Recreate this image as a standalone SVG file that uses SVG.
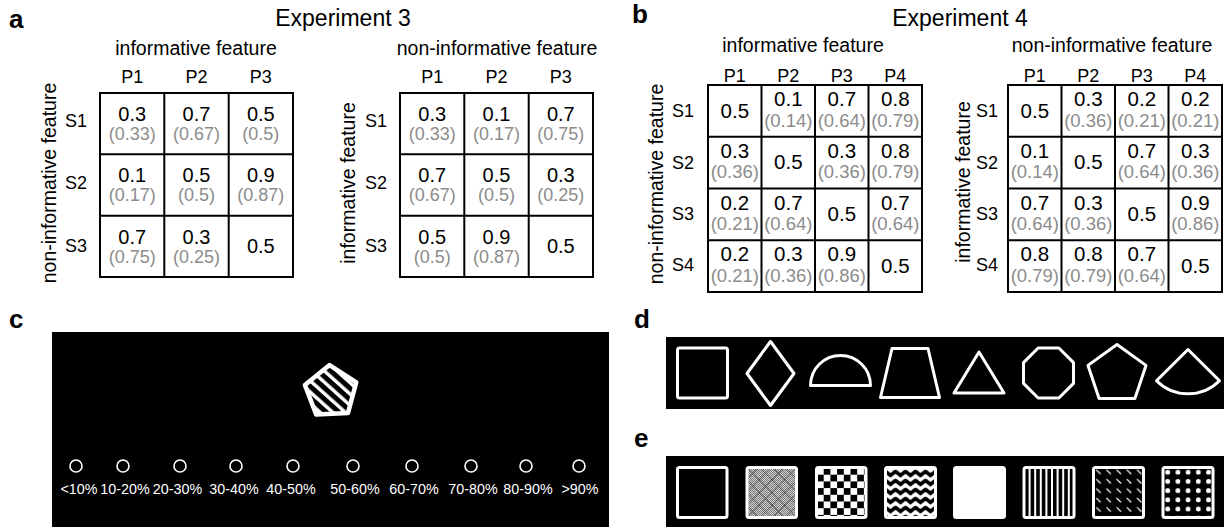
<svg xmlns="http://www.w3.org/2000/svg" width="1224" height="527" viewBox="0 0 1224 527">
<style>
text{font-family:"Liberation Sans",Arial,Helvetica,sans-serif;fill:#000}
.pl{font-weight:bold;font-size:26px}
.hd{font-size:23px;text-anchor:middle}
.lab{font-size:19.5px;text-anchor:middle}
.ax{font-size:18px;text-anchor:middle}
.n{font-size:20px;text-anchor:middle}
.g{font-size:18px;text-anchor:middle;fill:#8c8c8c}
.nb{font-size:20.5px;text-anchor:middle}
.gb{font-size:18.5px;text-anchor:middle;fill:#8c8c8c}
.grid{fill:none;stroke:#000;stroke-width:2}
.pc{font-size:14.3px;text-anchor:middle;fill:#fff}
.circ{fill:none;stroke:#fff;stroke-width:1.6}
.sh{fill:none;stroke:#fff;stroke-width:3;stroke-linejoin:round}
.bx{stroke:#fff;stroke-width:3}
</style>
<defs>
<pattern id="stripeC" patternUnits="userSpaceOnUse" width="8.4" height="8.4" patternTransform="rotate(45)"><rect width="8.4" height="8.4" fill="#fff"/><rect width="8.4" height="5" fill="#000"/></pattern>
<pattern id="fine" patternUnits="userSpaceOnUse" width="2" height="2"><rect width="2" height="2" fill="#d2d2d2"/><rect width="1" height="1" fill="#777"/><rect x="1" y="1" width="1" height="1" fill="#777"/></pattern>
<pattern id="xh" patternUnits="userSpaceOnUse" x="746.5" y="467" width="12.75" height="12.75"><path d="M0,0L12.75,12.75M12.75,0L0,12.75" stroke="#444" stroke-width="0.9"/></pattern>
<pattern id="chk" patternUnits="userSpaceOnUse" x="817" y="468" width="13.4" height="13.4"><rect width="13.4" height="13.4" fill="#fff"/><rect x="6.7" y="0" width="6.7" height="6.7" fill="#000"/><rect x="0" y="6.7" width="6.7" height="6.7" fill="#000"/></pattern>
<pattern id="zig" patternUnits="userSpaceOnUse" x="885.5" y="469" width="10" height="9"><rect width="10" height="9" fill="#fff"/><path d="M-0.5,2L5,6.5L10.5,2" fill="none" stroke="#000" stroke-width="3.6"/></pattern>
<pattern id="dash" patternUnits="userSpaceOnUse" x="1093" y="467" width="10.2" height="9.4"><rect width="10.2" height="9.4" fill="#000"/><path d="M3.2,2.7L7.6,7" stroke="#fff" stroke-width="1.3"/></pattern>
<pattern id="dot" patternUnits="userSpaceOnUse" x="1162.5" y="467" width="10.2" height="9.2"><rect width="10.2" height="9.2" fill="#000"/><circle cx="5.2" cy="5.2" r="2.4" fill="#fff"/></pattern>
</defs>
<rect width="1224" height="527" fill="#fff"/>

<!-- panel labels -->
<text class="pl" x="9" y="28">a</text>
<text class="pl" x="632" y="23">b</text>
<text class="pl" x="9" y="328">c</text>
<text class="pl" x="634" y="328">d</text>
<text class="pl" x="634" y="447">e</text>

<!-- Panel a -->
<g id="panel-a">
<text class="hd" x="343" y="26">Experiment 3</text>
<g id="a-left">
<text class="lab" x="196" y="55">informative feature</text>
<text class="lab" transform="translate(56,183) rotate(-90)">non-informative feature</text>
<text class="ax" x="132.2" y="83">P1</text><text class="ax" x="196.5" y="83">P2</text><text class="ax" x="260.8" y="83">P3</text>
<text class="ax" x="76" y="127">S1</text><text class="ax" x="76" y="189">S2</text><text class="ax" x="76" y="252">S3</text>
<rect class="grid" x="100" y="93" width="193" height="184"/>
<path class="grid" d="M164.3,93V277M228.7,93V277M100,154.3H293M100,215.7H293"/>
<text class="n" x="132.2" y="121">0.3</text><text class="g" x="132.2" y="140">(0.33)</text>
<text class="n" x="196.5" y="121">0.7</text><text class="g" x="196.5" y="140">(0.67)</text>
<text class="n" x="260.8" y="121">0.5</text><text class="g" x="260.8" y="140">(0.5)</text>
<text class="n" x="132.2" y="182.3">0.1</text><text class="g" x="132.2" y="201.3">(0.17)</text>
<text class="n" x="196.5" y="182.3">0.5</text><text class="g" x="196.5" y="201.3">(0.5)</text>
<text class="n" x="260.8" y="182.3">0.9</text><text class="g" x="260.8" y="201.3">(0.87)</text>
<text class="n" x="132.2" y="243.7">0.7</text><text class="g" x="132.2" y="262.7">(0.75)</text>
<text class="n" x="196.5" y="243.7">0.3</text><text class="g" x="196.5" y="262.7">(0.25)</text>
<text class="n" x="260.8" y="253">0.5</text>
</g>
<g id="a-right">
<text class="lab" x="497" y="55">non-informative feature</text>
<text class="lab" transform="translate(355,183) rotate(-90)">informative feature</text>
<text class="ax" x="432.2" y="83">P1</text><text class="ax" x="496.5" y="83">P2</text><text class="ax" x="560.8" y="83">P3</text>
<text class="ax" x="376" y="127">S1</text><text class="ax" x="376" y="189">S2</text><text class="ax" x="376" y="252">S3</text>
<rect class="grid" x="400" y="93" width="193" height="184"/>
<path class="grid" d="M464.3,93V277M528.7,93V277M400,154.3H593M400,215.7H593"/>
<text class="n" x="432.2" y="121">0.3</text><text class="g" x="432.2" y="140">(0.33)</text>
<text class="n" x="496.5" y="121">0.1</text><text class="g" x="496.5" y="140">(0.17)</text>
<text class="n" x="560.8" y="121">0.7</text><text class="g" x="560.8" y="140">(0.75)</text>
<text class="n" x="432.2" y="182.3">0.7</text><text class="g" x="432.2" y="201.3">(0.67)</text>
<text class="n" x="496.5" y="182.3">0.5</text><text class="g" x="496.5" y="201.3">(0.5)</text>
<text class="n" x="560.8" y="182.3">0.3</text><text class="g" x="560.8" y="201.3">(0.25)</text>
<text class="n" x="432.2" y="243.7">0.5</text><text class="g" x="432.2" y="262.7">(0.5)</text>
<text class="n" x="496.5" y="243.7">0.9</text><text class="g" x="496.5" y="262.7">(0.87)</text>
<text class="n" x="560.8" y="253">0.5</text>
</g>
</g>

<!-- Panel b -->
<g id="panel-b">
<text class="hd" x="960" y="26">Experiment 4</text>
<g id="b-left">
<text class="lab" x="803" y="52">informative feature</text>
<text class="lab" transform="translate(663,184) rotate(-90)">non-informative feature</text>
<text class="ax" x="734.8" y="81.5">P1</text><text class="ax" x="788.3" y="81.5">P2</text><text class="ax" x="841.8" y="81.5">P3</text><text class="ax" x="895.3" y="81.5">P4</text>
<text class="ax" x="683" y="117">S1</text><text class="ax" x="683" y="168.5">S2</text><text class="ax" x="683" y="220">S3</text><text class="ax" x="683" y="271">S4</text>
<rect class="grid" x="708" y="85" width="214" height="207"/>
<path class="grid" d="M761.5,85V292M815,85V292M868.5,85V292M708,136.75H922M708,188.5H922M708,240.25H922"/>
<text class="nb" x="734.8" y="117.5">0.5</text>
<text class="nb" x="788.3" y="106">0.1</text><text class="gb" x="788.3" y="126.5">(0.14)</text>
<text class="nb" x="841.8" y="106">0.7</text><text class="gb" x="841.8" y="126.5">(0.64)</text>
<text class="nb" x="895.3" y="106">0.8</text><text class="gb" x="895.3" y="126.5">(0.79)</text>
<text class="nb" x="734.8" y="157.75">0.3</text><text class="gb" x="734.8" y="178.25">(0.36)</text>
<text class="nb" x="788.3" y="169.25">0.5</text>
<text class="nb" x="841.8" y="157.75">0.3</text><text class="gb" x="841.8" y="178.25">(0.36)</text>
<text class="nb" x="895.3" y="157.75">0.8</text><text class="gb" x="895.3" y="178.25">(0.79)</text>
<text class="nb" x="734.8" y="209.5">0.2</text><text class="gb" x="734.8" y="230">(0.21)</text>
<text class="nb" x="788.3" y="209.5">0.7</text><text class="gb" x="788.3" y="230">(0.64)</text>
<text class="nb" x="841.8" y="221">0.5</text>
<text class="nb" x="895.3" y="209.5">0.7</text><text class="gb" x="895.3" y="230">(0.64)</text>
<text class="nb" x="734.8" y="261.25">0.2</text><text class="gb" x="734.8" y="281.75">(0.21)</text>
<text class="nb" x="788.3" y="261.25">0.3</text><text class="gb" x="788.3" y="281.75">(0.36)</text>
<text class="nb" x="841.8" y="261.25">0.9</text><text class="gb" x="841.8" y="281.75">(0.86)</text>
<text class="nb" x="895.3" y="272.75">0.5</text>
</g>
<g id="b-right">
<text class="lab" x="1112" y="52">non-informative feature</text>
<text class="lab" transform="translate(970,182) rotate(-90)">informative feature</text>
<text class="ax" x="1034.8" y="81.5">P1</text><text class="ax" x="1088.3" y="81.5">P2</text><text class="ax" x="1141.8" y="81.5">P3</text><text class="ax" x="1195.3" y="81.5">P4</text>
<text class="ax" x="987" y="117">S1</text><text class="ax" x="987" y="168.5">S2</text><text class="ax" x="987" y="220">S3</text><text class="ax" x="987" y="271">S4</text>
<rect class="grid" x="1008" y="85" width="214" height="207"/>
<path class="grid" d="M1061.5,85V292M1115,85V292M1168.5,85V292M1008,136.75H1222M1008,188.5H1222M1008,240.25H1222"/>
<text class="nb" x="1034.8" y="117.5">0.5</text>
<text class="nb" x="1088.3" y="106">0.3</text><text class="gb" x="1088.3" y="126.5">(0.36)</text>
<text class="nb" x="1141.8" y="106">0.2</text><text class="gb" x="1141.8" y="126.5">(0.21)</text>
<text class="nb" x="1195.3" y="106">0.2</text><text class="gb" x="1195.3" y="126.5">(0.21)</text>
<text class="nb" x="1034.8" y="157.75">0.1</text><text class="gb" x="1034.8" y="178.25">(0.14)</text>
<text class="nb" x="1088.3" y="169.25">0.5</text>
<text class="nb" x="1141.8" y="157.75">0.7</text><text class="gb" x="1141.8" y="178.25">(0.64)</text>
<text class="nb" x="1195.3" y="157.75">0.3</text><text class="gb" x="1195.3" y="178.25">(0.36)</text>
<text class="nb" x="1034.8" y="209.5">0.7</text><text class="gb" x="1034.8" y="230">(0.64)</text>
<text class="nb" x="1088.3" y="209.5">0.3</text><text class="gb" x="1088.3" y="230">(0.36)</text>
<text class="nb" x="1141.8" y="221">0.5</text>
<text class="nb" x="1195.3" y="209.5">0.9</text><text class="gb" x="1195.3" y="230">(0.86)</text>
<text class="nb" x="1034.8" y="261.25">0.8</text><text class="gb" x="1034.8" y="281.75">(0.79)</text>
<text class="nb" x="1088.3" y="261.25">0.8</text><text class="gb" x="1088.3" y="281.75">(0.79)</text>
<text class="nb" x="1141.8" y="261.25">0.7</text><text class="gb" x="1141.8" y="281.75">(0.64)</text>
<text class="nb" x="1195.3" y="272.75">0.5</text>
</g>
</g>

<!-- Panel c -->
<g id="panel-c">
<rect x="52" y="332" width="557" height="195" fill="#000"/>
<g transform="rotate(-3 331 392)">
<polygon points="331,365 356.7,383.7 346.9,413.8 315.1,413.8 305.3,383.7" fill="url(#stripeC)" stroke="#fff" stroke-width="4.5" stroke-linejoin="round"/>
</g>
<g id="c-options">
<circle class="circ" cx="76" cy="466" r="6"/><circle class="circ" cx="123" cy="466" r="6"/><circle class="circ" cx="180" cy="466" r="6"/><circle class="circ" cx="236" cy="466" r="6"/><circle class="circ" cx="293" cy="466" r="6"/><circle class="circ" cx="353" cy="466" r="6"/><circle class="circ" cx="412" cy="466" r="6"/><circle class="circ" cx="471" cy="466" r="6"/><circle class="circ" cx="526" cy="466" r="6"/><circle class="circ" cx="579" cy="466" r="6"/>
<text class="pc" x="79" y="494">&lt;10%</text>
<text class="pc" x="125" y="494">10-20%</text>
<text class="pc" x="177.5" y="494">20-30%</text>
<text class="pc" x="234" y="494">30-40%</text>
<text class="pc" x="291" y="494">40-50%</text>
<text class="pc" x="355" y="494">50-60%</text>
<text class="pc" x="414" y="494">60-70%</text>
<text class="pc" x="473" y="494">70-80%</text>
<text class="pc" x="528" y="494">80-90%</text>
<text class="pc" x="580" y="494">&gt;90%</text>
</g>
</g>

<!-- Panel d -->
<g id="panel-d">
<rect x="666" y="337" width="558" height="72" fill="#000"/>
<rect class="sh" x="677.5" y="348" width="50" height="50" rx="2"/>
<polygon class="sh" points="770.5,341.5 794,373.5 770.5,405.5 747,373.5"/>
<path class="sh" d="M810.5,385.5A30,30 0 0 1 870.5,385.5Z"/>
<polygon class="sh" points="880.5,397.5 892,348.5 928,348.5 939.5,397.5"/>
<polygon class="sh" points="979,352 1004,393 954,393"/>
<polygon class="sh" points="1073.5,362.6 1073.5,383.4 1058.9,398 1038.1,398 1023.5,383.4 1023.5,362.6 1038.1,348 1058.9,348"/>
<polygon class="sh" points="1117,344.5 1146,365.4 1134.9,398.5 1099.1,398.5 1088,365.4"/>
<path class="sh" d="M1188,349.5L1156.5,380.8A44.5,44.5 0 0 0 1219.5,380.8Z"/>
</g>

<!-- Panel e -->
<g id="panel-e">
<rect x="666" y="456" width="558" height="71" fill="#000"/>
<rect class="bx" x="677.5" y="467.5" width="49.5" height="50" rx="2" fill="#000"/>
<rect x="747" y="467.5" width="49.5" height="50" rx="2" fill="url(#fine)"/>
<rect class="bx" x="747" y="467.5" width="49.5" height="50" rx="2" fill="url(#xh)"/>
<rect class="bx" x="816.5" y="467.5" width="49.5" height="50" rx="2" fill="url(#chk)"/>
<rect class="bx" x="885.5" y="467.5" width="50" height="50" rx="2" fill="url(#zig)"/>
<rect class="bx" x="954.5" y="467.5" width="50" height="50" rx="2" fill="#fff"/>
<rect class="bx" x="1024" y="467.5" width="50" height="50" rx="2" fill="#000"/>
<path d="M1029.6,468V517M1035.2,468V517M1040.8,468V517M1046.4,468V517M1052,468V517M1057.6,468V517M1063.2,468V517M1068.8,468V517" stroke="#fff" stroke-width="2"/>
<rect class="bx" x="1093.5" y="467.5" width="50" height="50" rx="2" fill="url(#dash)"/>
<rect class="bx" x="1163" y="467.5" width="50" height="50" rx="2" fill="url(#dot)"/>
</g>
</svg>
